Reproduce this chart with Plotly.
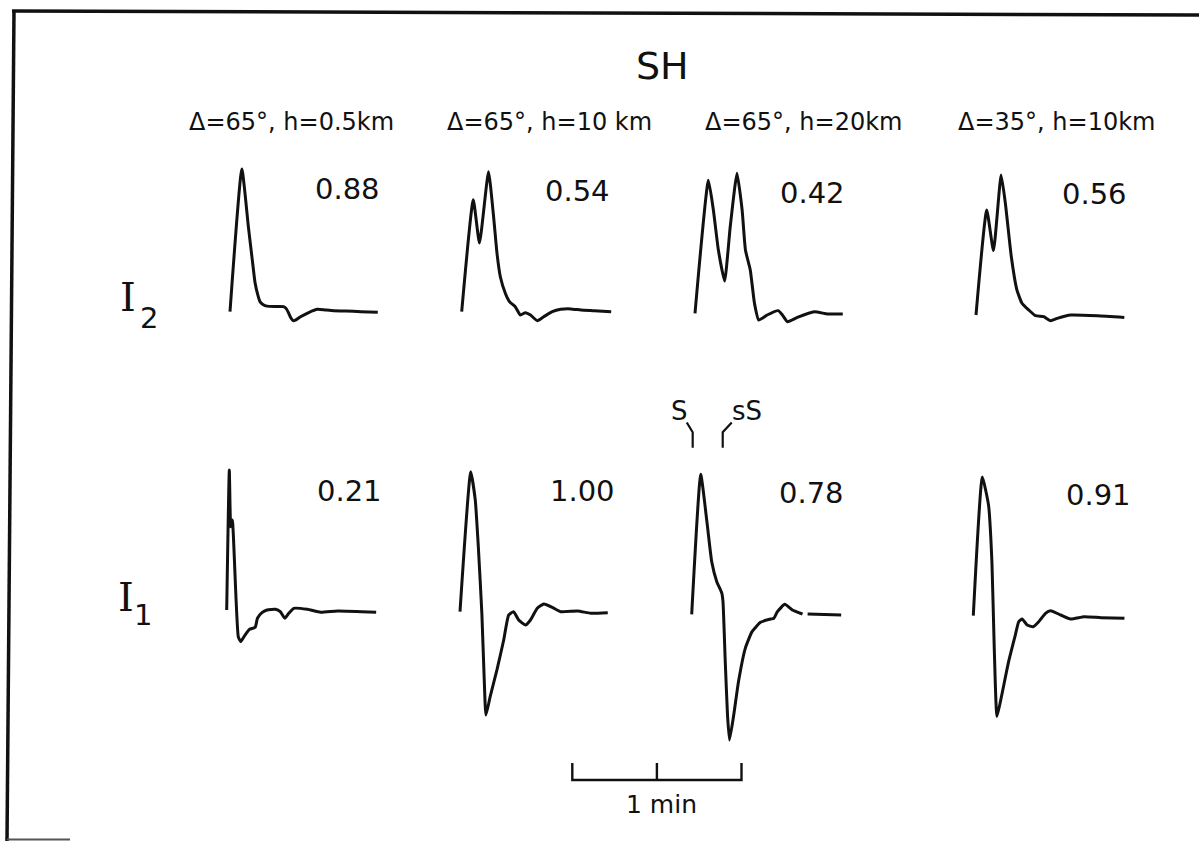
import plotly.graph_objects as go

# ---------------------------------------------------------------------------
# SH synthetic seismograms, two source models (I2, I1) at four distance/depth
# combinations. Time is seconds after the S onset, amplitude is normalised to
# the largest excursion of each trace; the printed numbers are relative
# amplitudes.
# ---------------------------------------------------------------------------

HEADERS = ["Δ=65°, h=0.5km", "Δ=65°, h=10 km", "Δ=65°, h=20km", "Δ=35°, h=10km"]
ROW_NAMES = ["2", "1"]          # subscripts of I2 (top row) and I1 (bottom row)
REL_AMP_I2 = [0.88, 0.54, 0.42, 0.56]
REL_AMP_I1 = [0.21, 1.00, 0.78, 0.91]

# --- model I2 --------------------------------------------------------------
t_i2_65_h05 = [0, 4.2, 6.5, 7.9, 8.9, 10.0, 10.7, 11.8, 13.1, 16.1, 19.0, 20.0,
               20.8, 21.6, 22.4, 23.2, 25.0, 27.9, 31.0, 33.9, 36.8, 41.1, 46.4, 52.4]
a_i2_65_h05 = [0, 1.02, 0.61, 0.37, 0.205, 0.11, 0.07, 0.05, 0.04, 0.037, 0.036, 0.02,
               -0.01, -0.045, -0.064, -0.06, -0.036, -0.006, 0.017, 0.012, 0.007, 0.005, 0.0, -0.004]

t_i2_65_h10 = [0, 4.1, 6.3, 9.5, 11.3, 12.5, 13.7, 15.5, 17.0, 19.0, 20.8, 22.6,
               24.4, 26.8, 29.1, 32.1, 35.1, 38.7, 42.3, 47.0, 53.0]
a_i2_65_h10 = [0, 0.80, 0.49, 1.00, 0.68, 0.42, 0.25, 0.13, 0.07, 0.036, -0.024, -0.007,
               -0.024, -0.064, -0.036, 0.0, 0.017, 0.02, 0.012, 0.007, 0.0]

t_i2_65_h20 = [0, 4.75, 6.5, 8.3, 10.5, 12.5, 14.9, 16.7, 17.9, 19.6, 21.1, 22.6,
               25.6, 29.5, 31.0, 32.8, 36.3, 42.3, 47.0, 52.4]
a_i2_65_h20 = [0, 0.95, 0.74, 0.45, 0.23, 0.62, 1.00, 0.74, 0.45, 0.31, 0.07, -0.048,
               -0.012, 0.019, -0.012, -0.06, -0.029, 0.011, -0.005, -0.005]

t_i2_35_h10 = [0, 3.8, 6.2, 8.9, 10.4, 12.5, 14.5, 16.3, 18.7, 21.1, 24.0, 26.4,
               28.8, 33.6, 43.1, 52.6]
a_i2_35_h10 = [0, 0.75, 0.46, 1.00, 0.80, 0.42, 0.18, 0.084, 0.036, -0.005, -0.012, -0.041,
               -0.024, 0.0, -0.005, -0.017]

# --- model I1 --------------------------------------------------------------
t_i1_65_h05 = [0, 0.93, 1.43, 2.0, 4.1, 5.0, 6.5, 8.1, 10.1, 10.9, 12.5, 14.3,
               17.3, 19.0, 20.6, 22.0, 23.8, 28.6, 33.3, 39.3, 53.0]
a_i1_65_h05 = [0, 1.0, 0.595, 0.643, -0.19, -0.226, -0.179, -0.138, -0.124, -0.059, -0.019, 0.0,
               0.005, -0.012, -0.059, -0.024, 0.012, 0.005, -0.016, -0.007, -0.016]

t_i1_65_h10 = [0, 3.8, 5.4, 6.5, 7.75, 8.6, 9.2, 10.7, 13.1, 15.5, 17.25, 19.0,
               20.8, 23.2, 25.0, 27.4, 29.75, 32.75, 35.7, 41.7, 46.4, 52.4]
a_i1_65_h10 = [0, 1.0, 0.80, 0.464, -0.011, -0.488, -0.738, -0.607, -0.416, -0.202, -0.024, 0.0,
               -0.059, -0.095, -0.059, 0.024, 0.055, 0.031, 0.0, 0.005, -0.011, -0.007]

t_i1_65_h20 = [0, 3.2, 5.4, 7.1, 8.9, 10.7, 11.1, 11.9, 12.7, 13.4, 14.9, 16.6,
               19.0, 21.4, 24.4, 28.0, 29.1, 30.4, 33.0, 35.7, 39.3, 40.2, 41.1, 53.0]
a_i1_65_h20 = [0, 1.0, 0.66, 0.376, 0.233, 0.15, 0.09, -0.339, -0.72, -0.898, -0.72, -0.48,
               -0.243, -0.124, -0.057, -0.034, -0.029, 0.019, 0.071, 0.031, 0.002, None, 0.002, -0.005]

t_i1_35_h10 = [0, 3.2, 5.4, 6.6, 7.4, 8.4, 10.1, 12.5, 14.9, 16.1, 17.3, 19.1,
               21.2, 23.2, 25.6, 27.4, 31.0, 34.5, 39.3, 45.3, 53.6]
a_i1_35_h10 = [0, 0.99, 0.79, 0.386, -0.21, -0.72, -0.566, -0.33, -0.138, -0.043, -0.024, -0.066,
               -0.079, -0.043, 0.017, 0.036, 0.005, -0.024, -0.007, -0.014, -0.019]

# arrival picks on the I1, Δ=65°, h=20 km trace (s after onset)
PICK_LABELS = ["S", "sS"]
PICK_TIMES = [0.35, 11.0]

SCALE_BAR_S = 60   # "1 min" time bar

# ---------------------------------------------------------------------------
# Layout geometry (pixels of a 1199 x 841 page)
# ---------------------------------------------------------------------------
W, H = 1199, 841
PX_PER_S = 2.82
PX_PER_AMP = 140.0
INK = "#111111"
FONT = "DejaVu Sans"

# onset x / baseline y of each panel (I2 row, then I1 row)
PANEL_ANCHORS = [(230.0, 311.7), (461.7, 311.7), (695.0, 313.3), (976.0, 315.0),
                 (226.7, 610.0), (460.0, 611.7), (691.7, 614.3), (973.3, 615.7)]
T_RANGE = (-3.0, 57.0)
A_RANGE = (-1.0, 1.08)
PICK_PANEL = 7

traces = [
    (t_i2_65_h05, a_i2_65_h05), (t_i2_65_h10, a_i2_65_h10),
    (t_i2_65_h20, a_i2_65_h20), (t_i2_35_h10, a_i2_35_h10),
    (t_i1_65_h05, a_i1_65_h05), (t_i1_65_h10, a_i1_65_h10),
    (t_i1_65_h20, a_i1_65_h20), (t_i1_35_h10, a_i1_35_h10),
]


def px(x, y):
    """pixel position -> paper coordinates"""
    return x / W, 1 - y / H


fig = go.Figure()
axes = {}

for i, ((tt, aa), (x0, y0)) in enumerate(zip(traces, PANEL_ANCHORS), start=1):
    t_lo, t_hi = T_RANGE
    a_lo, a_hi = A_RANGE
    if i == PICK_PANEL:          # room for the phase picks and their labels
        t_lo, a_hi = -9.0, 1.6
    xd = [(x0 + t_lo * PX_PER_S) / W, (x0 + t_hi * PX_PER_S) / W]
    yd = [1 - (y0 - a_lo * PX_PER_AMP) / H, 1 - (y0 - a_hi * PX_PER_AMP) / H]
    sfx = "" if i == 1 else str(i)
    axes[f"xaxis{sfx}"] = dict(domain=xd, range=[t_lo, t_hi], anchor=f"y{sfx}", visible=False)
    axes[f"yaxis{sfx}"] = dict(domain=yd, range=[a_lo, a_hi], anchor=f"x{sfx}", visible=False)
    fig.add_trace(go.Scatter(x=tt, y=aa, xaxis=f"x{sfx}", yaxis=f"y{sfx}", mode="lines",
                             line=dict(color=INK, width=3, shape="spline", smoothing=0.45),
                             hoverinfo="skip"))

# S / sS picks drawn on the time axis of their trace
hook = [-2.1, 3.2]
label_dt = [-4.8, 8.6]
for lab, tp, hk, dt in zip(PICK_LABELS, PICK_TIMES, hook, label_dt):
    fig.add_trace(go.Scatter(x=[tp, tp, tp + hk], y=[1.19, 1.30, 1.37],
                             xaxis=f"x{PICK_PANEL}", yaxis=f"y{PICK_PANEL}", mode="lines",
                             line=dict(color=INK, width=2.2), hoverinfo="skip"))
    fig.add_annotation(x=tp + dt, y=1.45, xref=f"x{PICK_PANEL}", yref=f"y{PICK_PANEL}",
                       text=lab, showarrow=False, font=dict(family=FONT, size=26, color=INK))

# 1-minute time bar on its own axis with the same time scale
bx0, by0, bh = 572.3, 780.0, 17.0
axes["xaxis9"] = dict(domain=[(bx0 - 3 * PX_PER_S) / W, (bx0 + (SCALE_BAR_S + 3) * PX_PER_S) / W],
                      range=[-3, SCALE_BAR_S + 3], anchor="y9", visible=False)
axes["yaxis9"] = dict(domain=[1 - (by0 + 0.2 * bh) / H, 1 - (by0 - 1.2 * bh) / H],
                      range=[-0.2, 1.2], anchor="x9", visible=False)
fig.add_trace(go.Scatter(x=[0, 0, SCALE_BAR_S, SCALE_BAR_S, None, SCALE_BAR_S / 2, SCALE_BAR_S / 2],
                         y=[1, 0, 0, 1, None, 0, 1], xaxis="x9", yaxis="y9", mode="lines",
                         line=dict(color=INK, width=2.4), hoverinfo="skip"))

# ---------------------------------------------------------------------------
# Text
# ---------------------------------------------------------------------------
def label(x, y, text, size, family=FONT):
    xp, yp = px(x, y)
    fig.add_annotation(x=xp, y=yp, xref="paper", yref="paper", text=text, showarrow=False,
                       xanchor="center", yanchor="middle",
                       font=dict(family=family, size=size, color=INK))


label(662, 66, "SH", 38)
for cx, txt in zip([291, 549, 803, 1056], HEADERS):
    label(cx, 122, txt, 24)

for (cx, cy), v in zip([(347.5, 189), (577, 191), (813, 192.5), (1094, 194)], REL_AMP_I2):
    label(cx, cy, f"{v:.2f}", 29)
for (cx, cy), v in zip([(349.7, 491), (582.5, 491), (811, 493), (1098, 495)], REL_AMP_I1):
    label(cx, cy, f"{v:.2f}", 29)

# row labels I2 / I1
label(127.5, 297, "I", 40, "DejaVu Serif")
label(148.5, 318, ROW_NAMES[0], 29)
label(126, 597, "I", 40, "DejaVu Serif")
label(143, 615, ROW_NAMES[1], 29)

label(661, 804, f"{SCALE_BAR_S // 60} min", 25)

# ---------------------------------------------------------------------------
# Frame
# ---------------------------------------------------------------------------
def seg(x1, y1, x2, y2, w, color=INK):
    a, b = px(x1, y1)
    c, d = px(x2, y2)
    fig.add_shape(type="line", xref="paper", yref="paper", x0=a, y0=b, x1=c, y1=d,
                  line=dict(color=color, width=w))


seg(12, 11, 1199, 15, 3.5)
seg(14, 10, 7, 841, 3.5)
seg(7, 839.5, 70, 839.5, 2, "#555555")

fig.update_layout(width=W, height=H, margin=dict(l=0, r=0, t=0, b=0),
                  paper_bgcolor="white", plot_bgcolor="rgba(0,0,0,0)",
                  showlegend=False, **axes)

fig.write_html("out.html")
